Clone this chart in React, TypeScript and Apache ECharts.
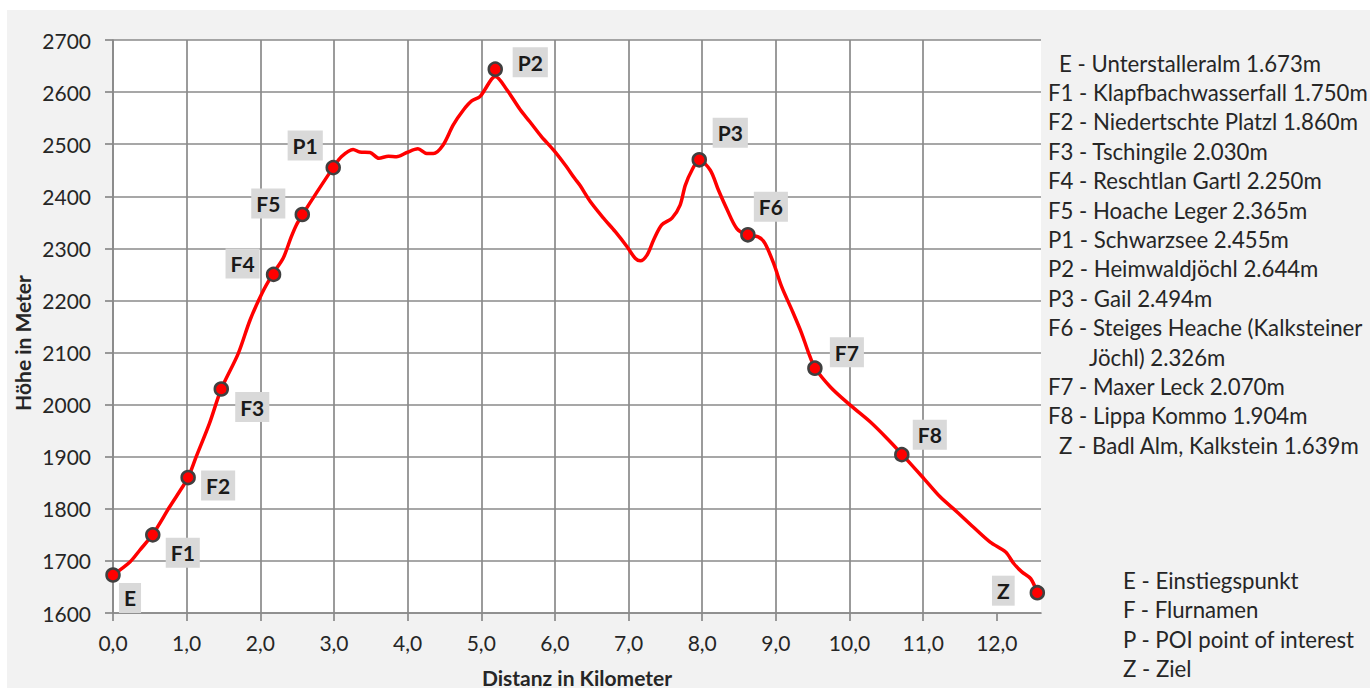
import React, { useEffect, useRef } from "react";
import * as echarts from "echarts";

// Elevation profile (distance in km, elevation in m)
const distanceKm = [
  0, 0.23, 0.36, 0.54, 0.77, 0.93, 1.02, 1.13, 1.31, 1.47, 1.7, 1.86, 2.02, 2.17, 2.31, 2.42, 2.49, 2.57,
  2.76, 2.99, 3.1, 3.26, 3.35, 3.49, 3.61, 3.74, 3.85, 3.99, 4.14, 4.26, 4.35, 4.48, 4.62, 4.76, 4.87,
  4.98, 5.05, 5.14, 5.19, 5.35, 5.53, 5.66, 5.82, 5.98, 6.14, 6.27, 6.34, 6.48, 6.66, 6.82, 6.98, 7.09,
  7.16, 7.25, 7.34, 7.45, 7.59, 7.7, 7.77, 7.86, 7.96, 8.11, 8.22, 8.33, 8.47, 8.62, 8.76, 8.85, 8.97,
  9.08, 9.22, 9.35, 9.44, 9.53, 9.74, 10.01, 10.28, 10.51, 10.71, 11.01, 11.23, 11.46, 11.68, 11.91,
  12.12, 12.23, 12.34, 12.46, 12.55,
];
const elevationM = [
  1673, 1698, 1720, 1751, 1804, 1839, 1860, 1900, 1964, 2030, 2098, 2162, 2213, 2251, 2281, 2322, 2345,
  2364, 2406, 2455, 2476, 2490, 2485, 2484, 2473, 2477, 2476, 2484, 2491, 2482, 2482, 2498, 2537, 2566,
  2583, 2591, 2605, 2625, 2630, 2604, 2566, 2543, 2514, 2489, 2460, 2434, 2421, 2390, 2358, 2332, 2303,
  2281, 2276, 2287, 2316, 2345, 2358, 2383, 2421, 2450, 2470, 2450, 2412, 2377, 2338, 2325, 2322, 2310,
  2271, 2226, 2181, 2137, 2101, 2071, 2034, 1999, 1967, 1935, 1905, 1858, 1823, 1794, 1765, 1736, 1717,
  1695, 1679, 1666, 1639,
];

// Marked points
const poiNames = ["E", "F1", "F2", "F3", "F4", "F5", "P1", "P2", "P3", "F6", "F7", "F8", "Z"];
const poiKm = [0, 0.54, 1.02, 1.47, 2.18, 2.57, 2.99, 5.19, 7.96, 8.62, 9.53, 10.71, 12.55];
const poiElev = [1673, 1750, 1860, 2030, 2250, 2365, 2455, 2644, 2470, 2326, 2070, 1904, 1639];

// Axis ticks
const xTicks = [0, 1, 2, 3, 4, 5, 6, 7, 8, 9, 10, 11, 12];
const xMax = 12.6;
const yMin = 1600;
const yMax = 2700;
const yStep = 100;

// Texts
const xAxisTitle = "Distanz in Kilometer";
const yAxisTitle = "Höhe in Meter";
const legendLines = [
  "E - Unterstalleralm 1.673m",
  "F1 - Klapfbachwasserfall 1.750m",
  "F2 - Niedertschte Platzl 1.860m",
  "F3 - Tschingile 2.030m",
  "F4 - Reschtlan Gartl 2.250m",
  "F5 - Hoache Leger 2.365m",
  "P1 - Schwarzsee 2.455m",
  "P2 - Heimwaldjöchl 2.644m",
  "P3 - Gail 2.494m",
  "F6 - Steiges Heache (Kalksteiner",
  "Jöchl) 2.326m",
  "F7 - Maxer Leck 2.070m",
  "F8 - Lippa Kommo 1.904m",
  "Z - Badl Alm, Kalkstein 1.639m",
];
const keyLines = ["E - Einstiegspunkt", "F - Flurnamen", "P - POI point of interest", "Z - Ziel"];

// Layout (not data)
const FONT = "Lato";
const TEXT = "#262626";
const GRID = "#8a8a8a";
const labelOffsets: number[][] = [
  [17, 23], [30, 18], [30, 8], [31, 18], [-31, -11], [-34, -11], [-28, -22],
  [35, -7], [31, -27], [23, -28], [32, -16], [28, -20], [-34, -2],
];
const legendX = [1059, 1048, 1048, 1048, 1048, 1048, 1048, 1048, 1048, 1048, 1089, 1048, 1048, 1059];

export default function App() {
  const ref = useRef<HTMLDivElement>(null);

  useEffect(() => {
    if (!ref.current) return;
    const chart = echarts.init(ref.current, null, { renderer: "svg" });

    const profile = distanceKm.map((d, i) => [d, elevationM[i]]);
    const pois = poiNames.map((n, i) => ({
      name: n,
      value: [poiKm[i], poiElev[i]],
      label: { offset: labelOffsets[i] },
    }));

    const graphics: any[] = [];
    legendLines.forEach((t, i) => {
      graphics.push({
        type: "text",
        x: legendX[i],
        y: 63 + i * 29.4,
        style: {
          text: t,
          fontFamily: FONT,
          fontSize: 22.2,
          fill: TEXT,
          align: "left",
          verticalAlign: "middle",
        },
      });
    });
    keyLines.forEach((t, i) => {
      graphics.push({
        type: "text",
        x: 1123,
        y: 580 + i * 29.5,
        style: {
          text: t,
          fontFamily: FONT,
          fontSize: 22.2,
          fill: TEXT,
          align: "left",
          verticalAlign: "middle",
        },
      });
    });
    graphics.push({
      type: "text",
      x: 577,
      y: 677,
      style: {
        text: xAxisTitle,
        fontFamily: FONT,
        fontSize: 21,
        fontWeight: "bold",
        fill: TEXT,
        align: "center",
        verticalAlign: "middle",
      },
    });
    graphics.push({
      type: "text",
      x: 22,
      y: 343,
      rotation: Math.PI / 2,
      style: {
        text: yAxisTitle,
        fontFamily: FONT,
        fontSize: 21,
        fontWeight: "bold",
        fill: TEXT,
        align: "center",
        verticalAlign: "middle",
      },
    });

    chart.setOption({
      animation: false,
      grid: {
        left: 113,
        right: 329,
        top: 40,
        bottom: 75,
        show: true,
        backgroundColor: "#ffffff",
        borderWidth: 0,
      },
      xAxis: {
        type: "value",
        min: 0,
        max: xMax,
        interval: 1,
        axisLine: { show: true, lineStyle: { color: GRID, width: 1.7 } },
        axisTick: {
          show: true,
          length: 8,
          customValues: xTicks,
          lineStyle: { color: GRID, width: 1.7 },
        },
        axisLabel: {
          customValues: xTicks,
          margin: 19,
          fontFamily: FONT,
          fontSize: 21,
          color: TEXT,
          formatter: (v: number) => v.toFixed(1).replace(".", ","),
        },
        splitLine: {
          show: true,
          showMaxLine: false,
          lineStyle: { color: GRID, width: 1.7 },
        },
      },
      yAxis: {
        type: "value",
        min: yMin,
        max: yMax,
        interval: yStep,
        axisLine: { show: true, lineStyle: { color: GRID, width: 1.7 } },
        axisTick: { show: true, length: 8, lineStyle: { color: GRID, width: 1.7 } },
        axisLabel: {
          margin: 22,
          fontFamily: FONT,
          fontSize: 21,
          color: TEXT,
          formatter: (v: number) => String(v),
        },
        splitLine: { show: true, lineStyle: { color: GRID, width: 1.7 } },
      },
      series: [
        {
          type: "line",
          data: profile,
          smooth: 0.3,
          showSymbol: false,
          lineStyle: { color: "#ff0000", width: 3.5 },
          z: 3,
        },
        {
          type: "scatter",
          data: pois,
          symbol: "circle",
          symbolSize: 13,
          itemStyle: { color: "#ff0000", borderColor: "#404040", borderWidth: 2.5, opacity: 1 },
          z: 4,
          label: {
            show: true,
            position: "inside",
            formatter: (p: any) => p.name,
            fontFamily: FONT,
            fontSize: 21,
            fontWeight: "bold",
            color: "#1a1a1a",
            backgroundColor: "#d9d9d9",
            padding: [4, 5, 4, 5],
            lineHeight: 22,
          },
        },
      ],
      graphic: graphics,
    });

    return () => chart.dispose();
  }, []);

  return (
    <div
      style={{
        position: "fixed",
        left: 0,
        top: 0,
        width: 1370,
        height: 688,
        background: "#ffffff",
        overflow: "hidden",
      }}
    >
      <div style={{ position: "absolute", left: 7, top: 10, right: 0, bottom: 0, background: "#f2f2f2" }} />
      <div ref={ref} style={{ position: "absolute", left: 0, top: 0, width: 1370, height: 688 }} />
    </div>
  );
}
